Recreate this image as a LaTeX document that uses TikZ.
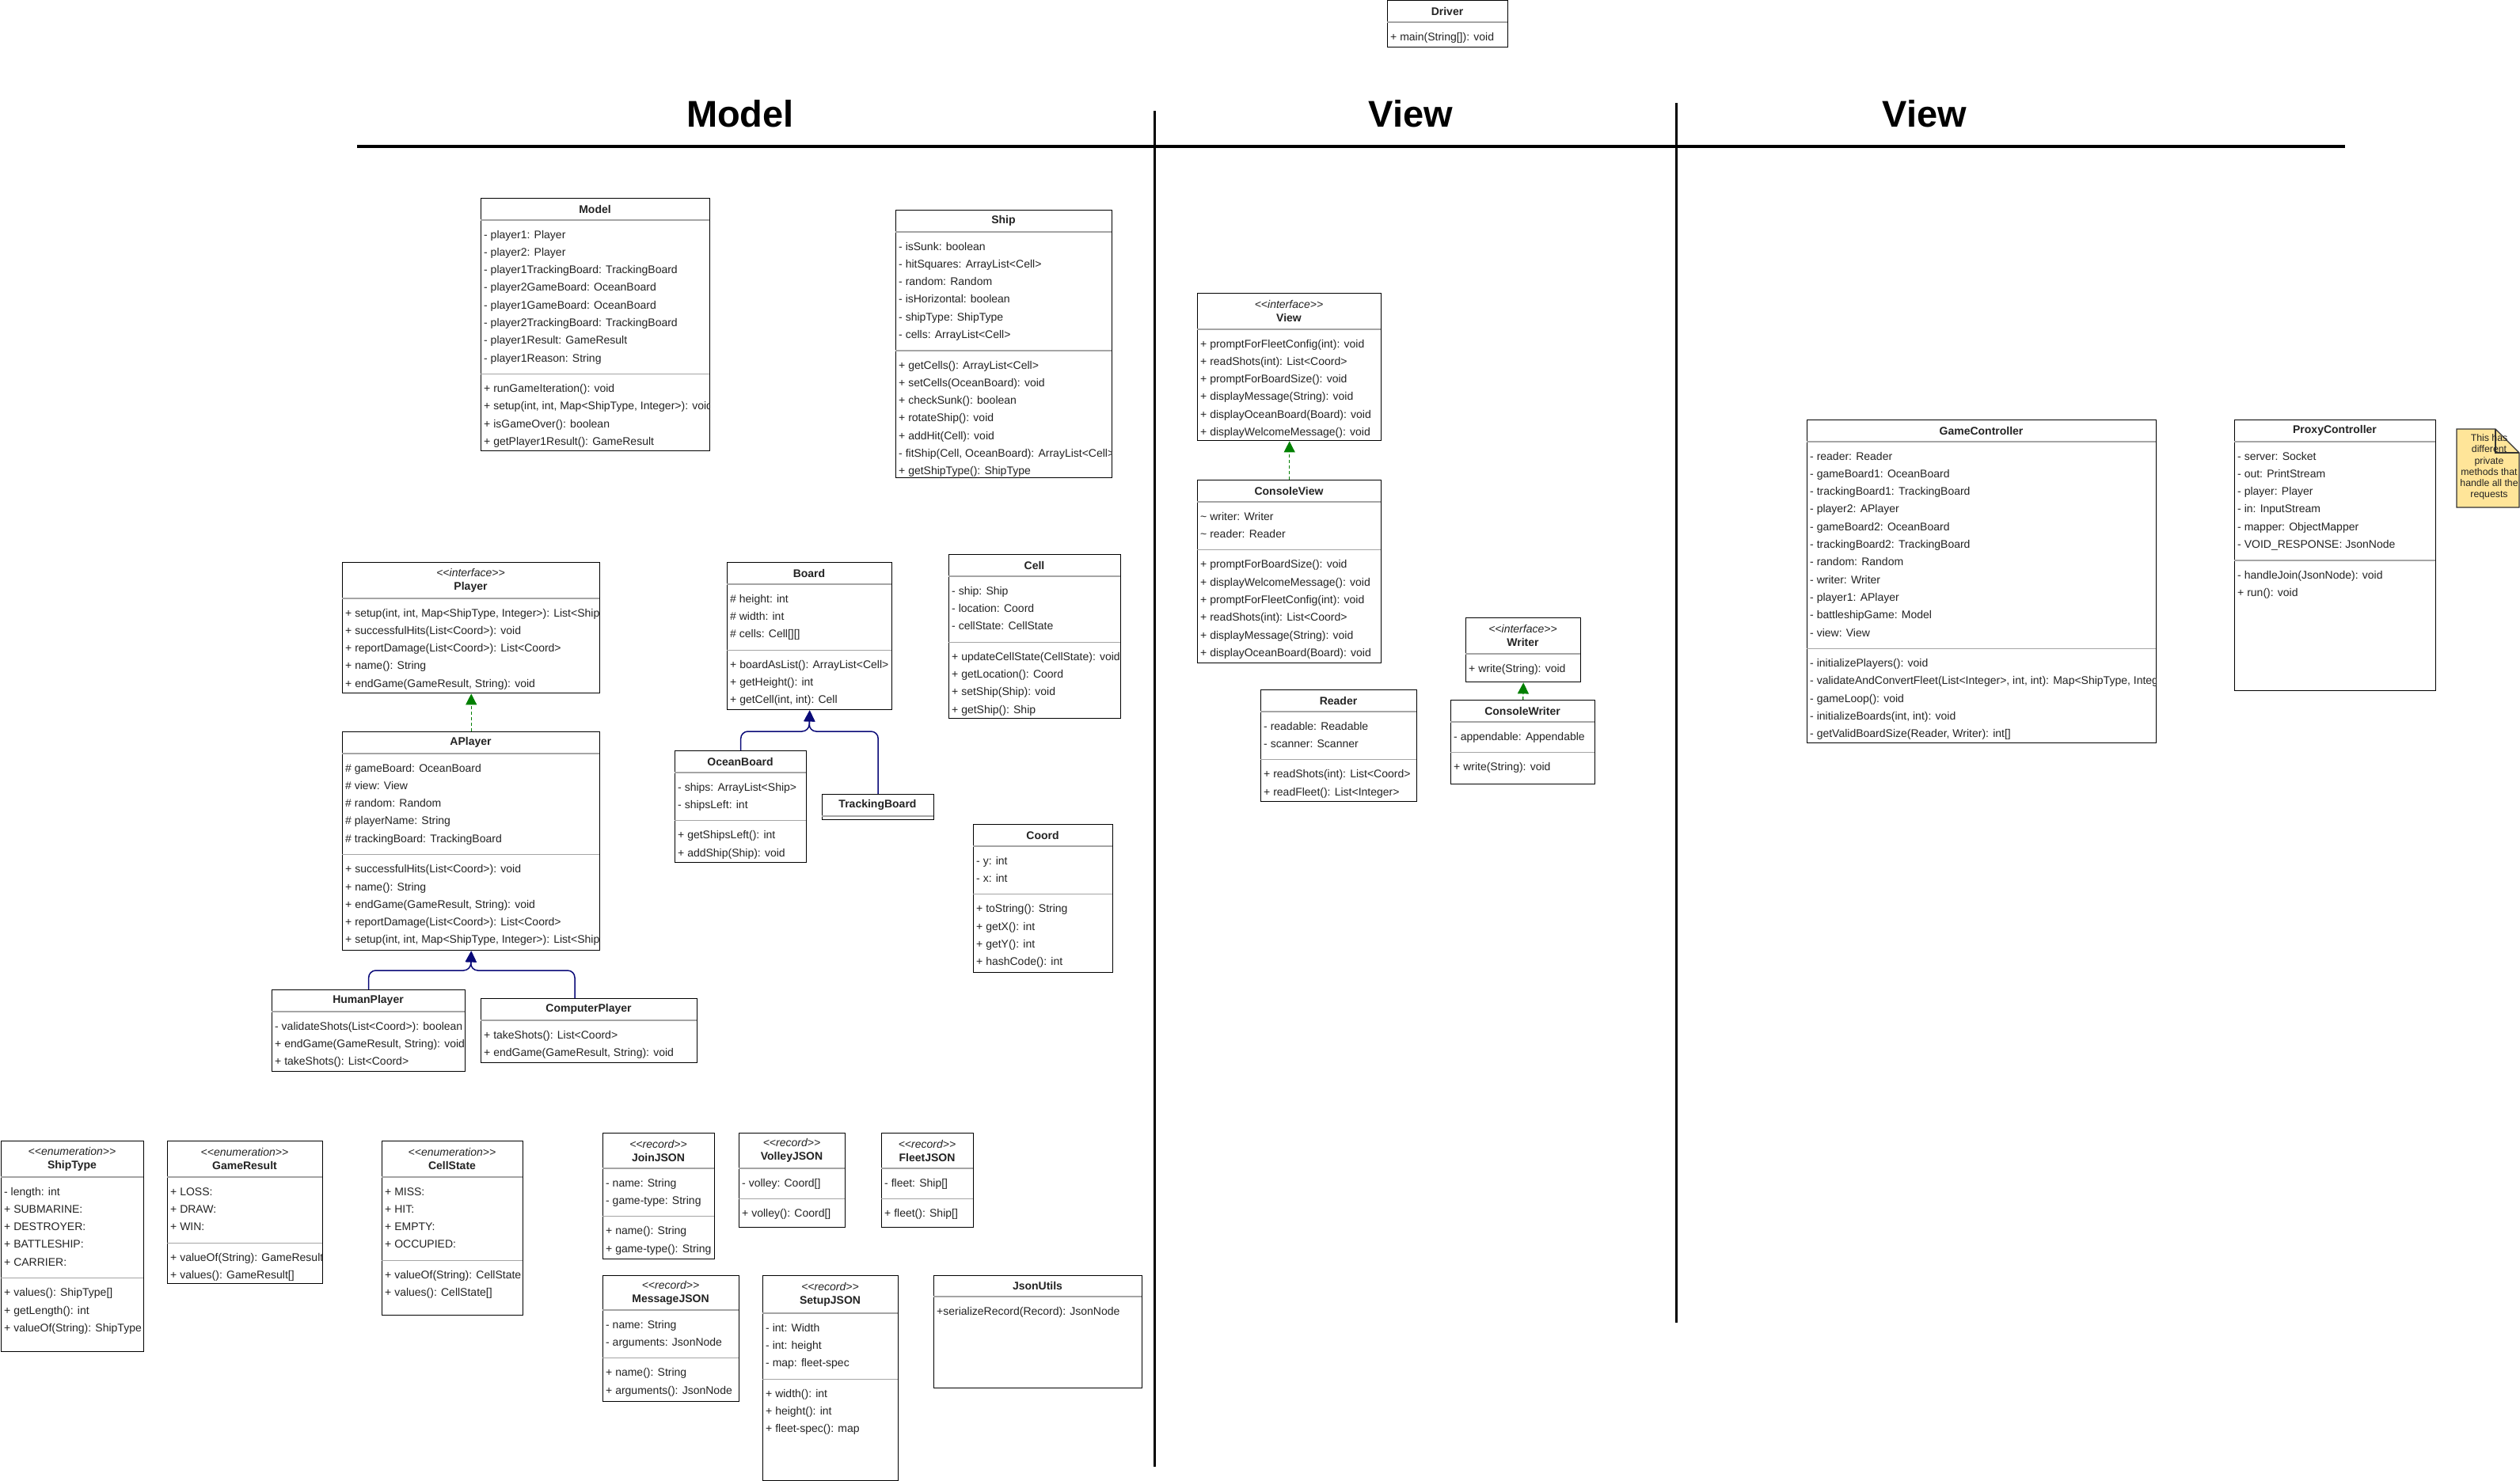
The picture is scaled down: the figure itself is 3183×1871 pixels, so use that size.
\documentclass[tikz,border=0pt]{standalone}
\usepackage{fontspec}
\setmainfont{Liberation Sans}
\usetikzlibrary{arrows.meta}
\definecolor{sepgray}{RGB}{165,165,165}
\definecolor{txt}{RGB}{35,35,35}
\definecolor{realgreen}{RGB}{0,128,0}
\definecolor{inhnavy}{RGB}{10,10,120}
\definecolor{notefill}{RGB}{255,229,153}
\newcommand\stereo[1]{{\mdseries\itshape <{}<#1>{}>}}
\newcommand\uclass[9]{%
  \node[classbox, minimum width=#4pt, minimum height=#5pt] (#1) at (#2,#3) {};
  \begin{scope}
    \clip (#2,#3) rectangle ++(#4,#5);
    \node[titletext] (#1-title) at (#2+#4/2, #3+#6/2) {#7};
    \draw[sepline] (#2,#3+#6) -- ++(#4,0);
    \pgfmathsetmacro\ystart{#3+#6+19.5}%
    \if\relax\detokenize{#8}\relax
    \else
      \foreach \txt [count=\i from 0] in {#8} {%
        \node[memtext] (#1-a\i) at (#2+4, \ystart+\i*22.3) {\txt};%
        \xdef\nlast{\i}}%
      \pgfmathsetmacro\ystart{\ystart+\nlast*22.3+38.5}%
      \draw[sepline] (#2,\ystart-19.5) -- ++(#4,0);
    \fi
    \if\relax\detokenize{#9}\relax
    \else
      \foreach \txt [count=\i from 0] in {#9} {%
        \node[memtext] (#1-m\i) at (#2+4, \ystart+\i*22.3) {\txt};}%
    \fi
  \end{scope}%
}
\begin{document}
\begin{tikzpicture}[x=1pt,y=-1pt,
  classbox/.style={draw=black, line width=1.4pt, anchor=north west, inner sep=0pt, fill=white},
  sepline/.style={draw=sepgray, line width=1.2pt},
  titletext/.style={font=\fontsize{14}{17}\selectfont\bfseries, text=txt, align=center, inner sep=0pt},
  memtext/.style={font=\fontsize{14}{17}\selectfont, text=txt, anchor=west, inner sep=0pt, text height=10pt, text depth=3pt},
  header/.style={font=\fontsize{47}{50}\selectfont\bfseries, text=black, inner sep=0pt},
  real/.style={draw=realgreen, line width=1.2pt, dash pattern=on 4pt off 3pt, -{Triangle[length=14pt,width=14pt,fill=realgreen]}},
  inh/.style={draw=inhnavy, line width=1.5pt, rounded corners=9pt, -{Triangle[length=14pt,width=14pt,fill=inhnavy]}},
  notestyle/.style={draw=black!80, line width=1.2pt, fill=notefill}]
\useasboundingbox (0,0) rectangle (3183,1871);
\fill[white] (0,0) rectangle (3183,1871);

% headers and dividers
\node[header] (hModel) at (935,144) {Model};
\node[header] (hView1) at (1782,144) {View};
\node[header] (hView2) at (2431,144) {View};
\draw[line width=4pt] (451,185) -- (2962,185);
\draw[line width=3pt] (1458,140) -- (1458,1853);
\draw[line width=3pt] (2117,130) -- (2117,1671);

\uclass{driver}{1752}{0}{152}{59}{28}{Driver}{}{{+ main(String[]): void}}

\uclass{model}{607}{250}{289}{319}{28}{Model}%
{{- player1: Player},{- player2: Player},{- player1TrackingBoard: TrackingBoard},{- player2GameBoard: OceanBoard},{- player1GameBoard: OceanBoard},{- player2TrackingBoard: TrackingBoard},{- player1Result: GameResult},{- player1Reason: String}}%
{{+ runGameIteration(): void},{+ setup(int, int, Map<ShipType, Integer>): void},{+ isGameOver(): boolean},{+ getPlayer1Result(): GameResult}}

\uclass{ship}{1131}{265}{273}{338}{28}{Ship}%
{{- isSunk: boolean},{- hitSquares: ArrayList<Cell>},{- random: Random},{- isHorizontal: boolean},{- shipType: ShipType},{- cells: ArrayList<Cell>}}%
{{+ getCells(): ArrayList<Cell>},{+ setCells(OceanBoard): void},{+ checkSunk(): boolean},{+ rotateShip(): void},{+ addHit(Cell): void},{- fitShip(Cell, OceanBoard): ArrayList<Cell>},{+ getShipType(): ShipType}}

\uclass{view}{1512}{370}{232}{186}{46}{\stereo{interface}\\View}{}%
{{+ promptForFleetConfig(int): void},{+ readShots(int): List<Coord>},{+ promptForBoardSize(): void},{+ displayMessage(String): void},{+ displayOceanBoard(Board): void},{+ displayWelcomeMessage(): void}}

\uclass{cview}{1512}{606}{232}{231}{28}{ConsoleView}%
{{\textasciitilde{} writer: Writer},{\textasciitilde{} reader: Reader}}%
{{+ promptForBoardSize(): void},{+ displayWelcomeMessage(): void},{+ promptForFleetConfig(int): void},{+ readShots(int): List<Coord>},{+ displayMessage(String): void},{+ displayOceanBoard(Board): void}}

\uclass{player}{432}{710}{325}{165}{46}{\stereo{interface}\\Player}{}%
{{+ setup(int, int, Map<ShipType, Integer>): List<Ship>},{+ successfulHits(List<Coord>): void},{+ reportDamage(List<Coord>): List<Coord>},{+ name(): String},{+ endGame(GameResult, String): void}}

\uclass{aplayer}{432}{924}{325}{276}{28}{APlayer}%
{{\# gameBoard: OceanBoard},{\# view: View},{\# random: Random},{\# playerName: String},{\# trackingBoard: TrackingBoard}}%
{{+ successfulHits(List<Coord>): void},{+ name(): String},{+ endGame(GameResult, String): void},{+ reportDamage(List<Coord>): List<Coord>},{+ setup(int, int, Map<ShipType, Integer>): List<Ship>}}

\uclass{board}{918}{710}{208}{186}{28}{Board}%
{{\# height: int},{\# width: int},{\# cells: Cell[][]}}%
{{+ boardAsList(): ArrayList<Cell>},{+ getHeight(): int},{+ getCell(int, int): Cell}}

\uclass{cell}{1198}{700}{217}{207}{28}{Cell}%
{{- ship: Ship},{- location: Coord},{- cellState: CellState}}%
{{+ updateCellState(CellState): void},{+ getLocation(): Coord},{+ setShip(Ship): void},{+ getShip(): Ship}}

\uclass{oboard}{852}{948}{166}{141}{28}{OceanBoard}%
{{- ships: ArrayList<Ship>},{- shipsLeft: int}}%
{{+ getShipsLeft(): int},{+ addShip(Ship): void}}

\uclass{tboard}{1038}{1003}{141}{32}{28}{TrackingBoard}{}{}

\uclass{coord}{1229}{1041}{176}{187}{28}{Coord}%
{{- y: int},{- x: int}}%
{{+ toString(): String},{+ getX(): int},{+ getY(): int},{+ hashCode(): int}}

\uclass{human}{343}{1250}{244}{103}{28}{HumanPlayer}{}%
{{- validateShots(List<Coord>): boolean},{+ endGame(GameResult, String): void},{+ takeShots(): List<Coord>}}

\uclass{computer}{607}{1261}{273}{81}{28}{ComputerPlayer}{}%
{{+ takeShots(): List<Coord>},{+ endGame(GameResult, String): void}}

\uclass{shiptype}{1}{1441}{180}{266}{46}{\stereo{enumeration}\\ShipType}%
{{- length: int},{+ SUBMARINE:},{+ DESTROYER:},{+ BATTLESHIP:},{+ CARRIER:}}%
{{+ values(): ShipType[]},{+ getLength(): int},{+ valueOf(String): ShipType}}

\uclass{gameresult}{211}{1441}{196}{180}{46}{\stereo{enumeration}\\GameResult}%
{{+ LOSS:},{+ DRAW:},{+ WIN:}}%
{{+ valueOf(String): GameResult},{+ values(): GameResult[]}}

\uclass{cellstate}{482}{1441}{178}{220}{46}{\stereo{enumeration}\\CellState}%
{{+ MISS:},{+ HIT:},{+ EMPTY:},{+ OCCUPIED:}}%
{{+ valueOf(String): CellState},{+ values(): CellState[]}}

\uclass{join}{761}{1431}{141}{159}{45}{\stereo{record}\\JoinJSON}%
{{- name: String},{- game-type: String}}%
{{+ name(): String},{+ game-type(): String}}

\uclass{volley}{933}{1431}{134}{119}{45}{\stereo{record}\\VolleyJSON}%
{{- volley: Coord[]}}%
{{+ volley(): Coord[]}}

\uclass{fleet}{1113}{1431}{116}{119}{45}{\stereo{record}\\FleetJSON}%
{{- fleet: Ship[]}}%
{{+ fleet(): Ship[]}}

\uclass{message}{761}{1611}{172}{159}{44}{\stereo{record}\\MessageJSON}%
{{- name: String},{- arguments: JsonNode}}%
{{+ name(): String},{+ arguments(): JsonNode}}

\uclass{setup}{963}{1611}{171}{259}{48}{\stereo{record}\\SetupJSON}%
{{- int: Width},{- int: height},{- map: fleet-spec}}%
{{+ width(): int},{+ height(): int},{+ fleet-spec(): map}}

\uclass{jsonutils}{1179}{1611}{263}{142}{27}{JsonUtils}{}%
{{+serializeRecord(Record): JsonNode}}

\uclass{reader}{1592}{871}{197}{141}{28}{Reader}%
{{- readable: Readable},{- scanner: Scanner}}%
{{+ readShots(int): List<Coord>},{+ readFleet(): List<Integer>}}

\uclass{writer}{1851}{780}{145}{81}{46}{\stereo{interface}\\Writer}{}%
{{+ write(String): void}}

\uclass{cwriter}{1832}{884}{182}{106}{28}{ConsoleWriter}%
{{- appendable: Appendable}}%
{{+ write(String): void}}

\uclass{gamec}{2282}{530}{441}{408}{28}{GameController}%
{{- reader: Reader},{- gameBoard1: OceanBoard},{- trackingBoard1: TrackingBoard},{- player2: APlayer},{- gameBoard2: OceanBoard},{- trackingBoard2: TrackingBoard},{- random: Random},{- writer: Writer},{- player1: APlayer},{- battleshipGame: Model},{- view: View}}%
{{- initializePlayers(): void},{- validateAndConvertFleet(List<Integer>, int, int): Map<ShipType, Integer>},{- gameLoop(): void},{- initializeBoards(int, int): void},{- getValidBoardSize(Reader, Writer): int[]}}

\uclass{proxy}{2822}{530}{254}{342}{28}{ProxyController}%
{{- server: Socket},{- out: PrintStream},{- player: Player},{- in: InputStream},{- mapper: ObjectMapper},{- VOID\_RESPONSE: JsonNode}}%
{{- handleJoin(JsonNode): void},{+ run(): void}}

% note
\draw[notestyle] (3103,542) -- (3152,542) -- (3182,572) -- (3182,641) -- (3103,641) -- cycle;
\draw[draw=black!80, line width=1.2pt] (3152,542) -- (3152,572) -- (3182,572);
\node[align=center, font=\fontsize{12.3}{14.3}\selectfont, text=txt, inner sep=0pt] (note) at (3144,590) {This has\\different\\private\\methods that\\handle all the\\requests};

% connectors
\draw[real] (cview.north) -- (view.south);
\draw[real] (aplayer.north) -- (player.south);
\draw[real] (cwriter.north) -- (writer.south);
\coordinate (jB) at (1022,924);
\draw[inh] (oboard.north) |- (jB) -- (board.south);
\draw[inh] (tboard.north) |- (jB) -- (board.south);
\coordinate (jA) at (594.5,1226);
\coordinate (cpIn) at (726,1261);
\draw[inh] (human.north) |- (jA) -- (aplayer.south);
\draw[inh] (cpIn) |- (jA) -- (aplayer.south);
\end{tikzpicture}
\end{document}
